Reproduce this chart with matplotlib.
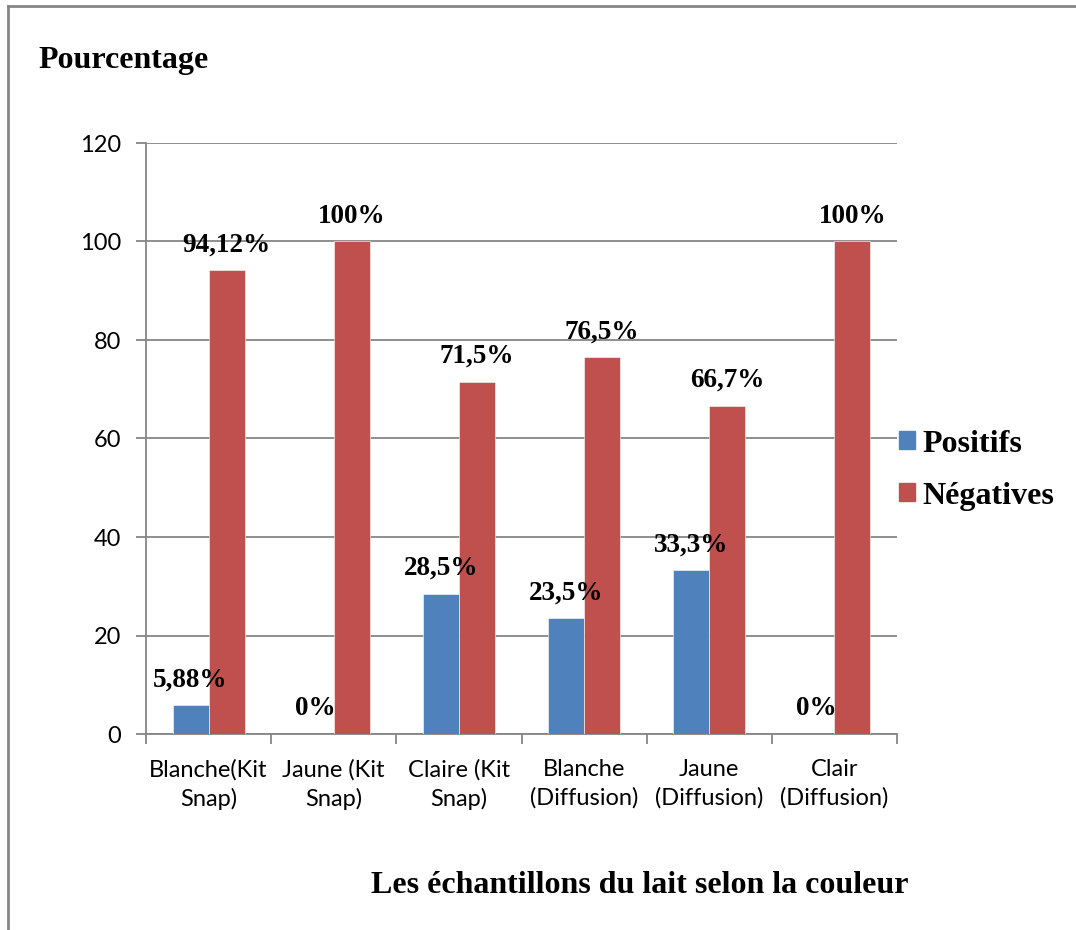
import matplotlib
matplotlib.use("Agg")
import matplotlib.pyplot as plt
from matplotlib.lines import Line2D
from matplotlib.patches import Patch
import numpy as np

# data
categories = ["Blanche(Kit\nSnap)", "Jaune (Kit\nSnap)", "Claire (Kit\nSnap)",
              "Blanche\n(Diffusion)", "Jaune\n(Diffusion)", "Clair\n(Diffusion)"]
positifs  = [5.88, 0, 28.5, 23.5, 33.3, 0]
negatives = [94.12, 100, 71.5, 76.5, 66.7, 100]
lab_pos = ["5,88%", "0%", "28,5%", "23,5%", "33,3%", "0%"]
lab_neg = ["94,12%", "100%", "71,5%", "76,5%", "66,7%", "100%"]

blue = "#4F81BD"
red  = "#C0504D"
grey = "#868686"
serif = "Liberation Serif"
sans  = "Lato"

W, H = 1076, 930
fig = plt.figure(figsize=(W / 100, H / 100), dpi=100)
ax = fig.add_axes([146 / W, 1 - 734 / H, (897 - 146) / W, (734 - 143) / H])

x = np.arange(len(categories))
bw = 0.288
b1 = ax.bar(x - bw / 2, positifs, bw, color=blue, edgecolor="white", linewidth=0.4, zorder=3)
b2 = ax.bar(x + bw / 2, negatives, bw, color=red, edgecolor="white", linewidth=0.4, zorder=3)

for bars, labs in ((b1, lab_pos), (b2, lab_neg)) :
    for r, t in zip(bars, labs) :
        ax.annotate(t, (r.get_x() + r.get_width() / 2, r.get_height()),
                    xytext=(0, 13.5), textcoords="offset points",
                    ha="center", va="baseline", fontsize=19.5,
                    fontweight="bold", family=serif, zorder=5)

ax.set_xlim(-0.5, len(categories) - 0.5)
ax.set_ylim(0, 120)
ax.set_yticks(range(0, 121, 20))
ax.yaxis.grid(True, color=grey, linewidth=1.3, zorder=0)
ax.tick_params(axis="y", direction="out", length=7, width=1.3, color=grey,
               labelsize=17, pad=11)
for lbl in ax.get_yticklabels() :
    lbl.set_family(sans)

ax.set_xticks(x)
ax.set_xticklabels(categories, family=sans, fontsize=17, linespacing=1.4)
ax.set_xticks(np.arange(-0.5, len(categories)), minor=True)
ax.tick_params(axis="x", which="major", length=0, pad=18)
ax.tick_params(axis="x", which="minor", direction="out", length=7, width=1.3, color=grey)

for s in ("top", "right") :
    ax.spines[s].set_visible(False)
for s in ("left", "bottom") :
    ax.spines[s].set_color(grey)
    ax.spines[s].set_linewidth(1.3)

# legend
handles = [Patch(color=blue), Patch(color=red)]
leg = fig.legend(handles, ["Positifs", "Négatives"], loc="center left",
                 bbox_to_anchor=(899 / W, 1 - 470 / H), frameon=False,
                 prop={"family": serif, "weight": "bold", "size": 23},
                 handlelength=0.5, handleheight=0.5, handletextpad=0.22,
                 labelspacing=0.72, borderpad=0, borderaxespad=0)

# titles
fig.text(38 / W, 1 - 68 / H, "Pourcentage", family=serif, fontweight="bold",
         fontsize=23, va="baseline", ha="left")
fig.text(640 / W, 1 - 893 / H, "Les échantillons du lait selon la couleur",
         family=serif, fontweight="bold", fontsize=23, va="baseline", ha="center")

# outer frame (open on the right/bottom, as cropped)
fig.add_artist(Line2D([8 / W, 8 / W], [0, 1 - 6 / H], color=grey, linewidth=2,
                      transform=fig.transFigure))
fig.add_artist(Line2D([8 / W, 1], [1 - 6 / H, 1 - 6 / H], color=grey, linewidth=2,
                      transform=fig.transFigure))

fig.savefig("out.png", dpi=100)
